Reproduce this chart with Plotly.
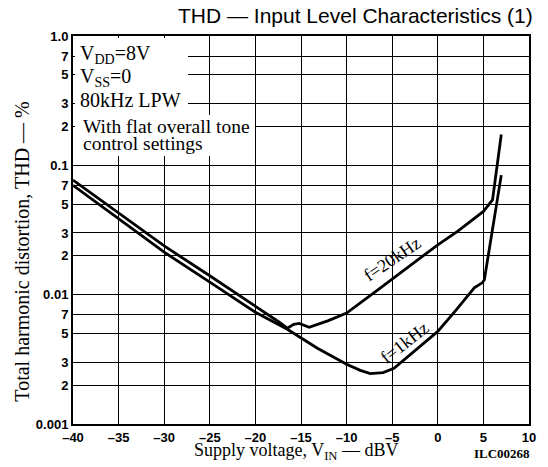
import plotly.graph_objects as go

# ---- data ----
x_20k = [-40, -35, -30, -25, -20, -17.5, -16.5, -15.8, -15.2, -14.6, -14.1, -12, -10, -6.5, -5, -1.4, 0, 2.2, 5.0, 6.0, 6.96]
thd_20k = [0.077, 0.043, 0.0238, 0.014, 0.0082, 0.0062, 0.0055, 0.0059, 0.0060, 0.0058, 0.0056, 0.0063, 0.0072, 0.011, 0.0132, 0.0205, 0.0243, 0.031, 0.044, 0.054, 0.173]

x_1k = [-40, -35, -30, -25, -20, -16.5, -13.2, -10, -8.5, -7.4, -6, -4.8, -2.5, 0, 2, 4, 4.9, 5.1, 6.96]
thd_1k = [0.070, 0.0386, 0.0213, 0.0125, 0.0073, 0.0054, 0.00385, 0.0029, 0.0026, 0.00245, 0.0025, 0.0027, 0.0037, 0.0052, 0.0076, 0.0113, 0.0124, 0.013, 0.084]

x_tickvals = [-40, -35, -30, -25, -20, -15, -10, -5, 0, 5, 10]
x_ticktext = ["\u201340", "\u201335", "\u201330", "\u201325", "\u201320", "\u201315", "\u201310", "\u20135", "0", "5", "10"]
y_tickvals = [0.001, 0.002, 0.003, 0.005, 0.007, 0.01, 0.02, 0.03, 0.05, 0.07, 0.1, 0.2, 0.3, 0.5, 0.7, 1.0]
y_ticktext = ["0.001", "2", "3", "5", "7", "0.01", "2", "3", "5", "7", "0.1", "2", "3", "5", "7", "1.0"]

SERIF = "Liberation Serif, Times New Roman, serif"
SANS = "Liberation Sans, Arial, sans-serif"

fig = go.Figure()
fig.add_trace(go.Scatter(x=x_20k, y=thd_20k, mode="lines", name="f=20kHz",
                         line=dict(color="black", width=2.8)))
fig.add_trace(go.Scatter(x=x_1k, y=thd_1k, mode="lines", name="f=1kHz",
                         line=dict(color="black", width=2.8)))

# page body has an 8px margin: figure is 8px smaller so the plot lands where the reference has it
fig.update_layout(
    template="simple_white",
    width=540, height=459,
    margin=dict(l=65, r=13, t=28, b=43),
    paper_bgcolor="white", plot_bgcolor="white",
    showlegend=False,
)
axis_common = dict(showgrid=True, gridcolor="#000000", gridwidth=1, griddash="solid",
                   showline=True, linecolor="black", linewidth=2, mirror=True,
                   ticks="outside", ticklen=0, tickcolor="black", zeroline=False,
                   tickfont=dict(family=SANS, size=13, color="black", weight="bold"))
fig.update_xaxes(range=[-40, 10], tickmode="array", tickvals=x_tickvals, ticktext=x_ticktext,
                 **axis_common)
fig.update_yaxes(type="log", range=[-3, 0], tickmode="array", tickvals=y_tickvals,
                 ticktext=y_ticktext, **axis_common)

# white areas behind the condition text (grid hidden there)
def white_box(x, y, w, h):
    fig.add_annotation(text=" ", x=x, y=y, xref="paper", yref="paper", showarrow=False,
                       xanchor="left", yanchor="top", width=w, height=h,
                       bgcolor="white", borderpad=0, borderwidth=0)

white_box(0.005, 0.996, 113, 77)
white_box(0.005, 0.797, 180, 41)

def ann(text, x, y, size, family=SERIF, xanchor="center", angle=0, align="center", **kw):
    fig.add_annotation(text=text, x=x, y=y, xref="paper", yref="paper", showarrow=False,
                       xanchor=xanchor, yanchor="middle", textangle=angle, align=align,
                       font=dict(family=family, size=size, color="black", **kw))

ann("THD \u2014 Input Level Characteristics (1)", 0.62, 1.053, 21, family=SANS)
ann("V<sub>DD</sub>=8V", 0.011, 0.953, 20, xanchor="left")
ann("V<sub>SS</sub>=0", 0.011, 0.894, 20, xanchor="left")
ann("80kHz LPW", 0.011, 0.835, 20, xanchor="left")
ann("With flat overall tone", 0.017, 0.767, 19.5, xanchor="left")
ann("control settings", 0.017, 0.722, 19.5, xanchor="left")
ann("f=20kHz", 0.700, 0.426, 18, angle=-34)
ann("f=1kHz", 0.726, 0.209, 18, angle=-38)
ann("Total harmonic distortion, THD \u2014 %", -0.112, 0.444, 20, angle=-90)
ann("Supply voltage, V<sub>IN</sub> \u2014 dBV", 0.49, -0.07, 18)
ann("ILC00268", 0.94, -0.075, 13, weight="bold")

fig.write_html("out.html")
